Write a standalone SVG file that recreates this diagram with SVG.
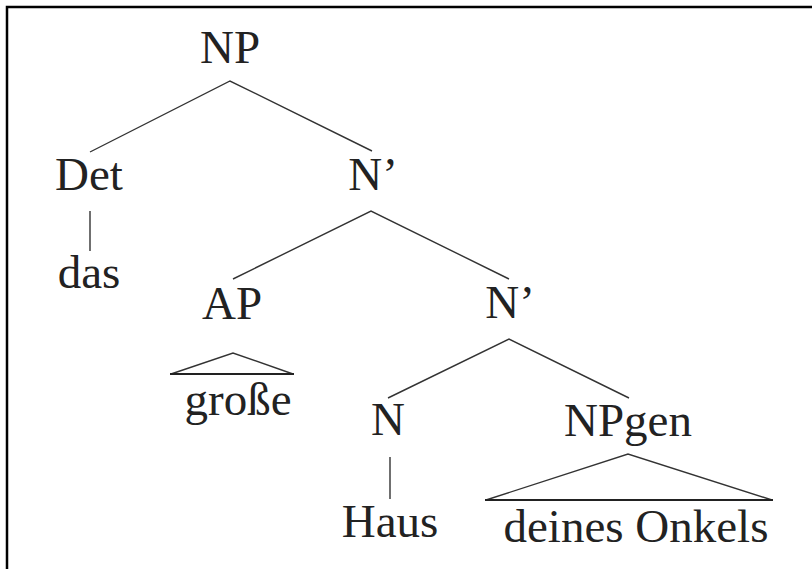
<svg xmlns="http://www.w3.org/2000/svg" width="812" height="569" viewBox="0 0 812 569">
<style>
text{font-family:"Liberation Serif","Times New Roman",serif;font-size:47px;fill:#222;text-anchor:middle}
.e{stroke:#333;stroke-width:1.4;fill:none}
.b{stroke:#222;stroke-width:2.2;fill:none}
</style>
<rect width="812" height="569" fill="#fff"/>
<path d="M7 569V7H812" stroke="#000" stroke-width="2.5" fill="none"/>
<g id="connectors">
<path class="e" d="M90 152L230 81L372 151"/>
<path class="e" d="M90 211V251"/>
<path class="e" d="M233 279L371 211L509 279"/>
<path class="e" d="M388 398L509 339L629 398"/>
<path class="e" d="M390 457V499"/>
<path class="e" d="M171 374L233 353L293 374"/>
<path class="b" d="M170 374H294"/>
<path class="e" d="M486 500L628 454L772 500"/>
<path class="b" d="M485 500H773"/>
</g>
<g id="np"><text x="230" y="63">NP</text></g>
<g id="det"><text x="89" y="190">Det</text></g>
<g id="das"><text x="89" y="288">das</text></g>
<g id="nbar1"><text x="373" y="190">N’</text></g>
<g id="ap"><text x="232" y="319">AP</text></g>
<g id="grosse"><text x="238" y="415">große</text></g>
<g id="nbar2"><text x="510" y="318">N’</text></g>
<g id="n"><text x="388" y="435">N</text></g>
<g id="haus"><text x="390" y="537">Haus</text></g>
<g id="npgen"><text x="628" y="436">NPgen</text></g>
<g id="deines"><text x="636" y="542">deines Onkels</text></g>
</svg>
